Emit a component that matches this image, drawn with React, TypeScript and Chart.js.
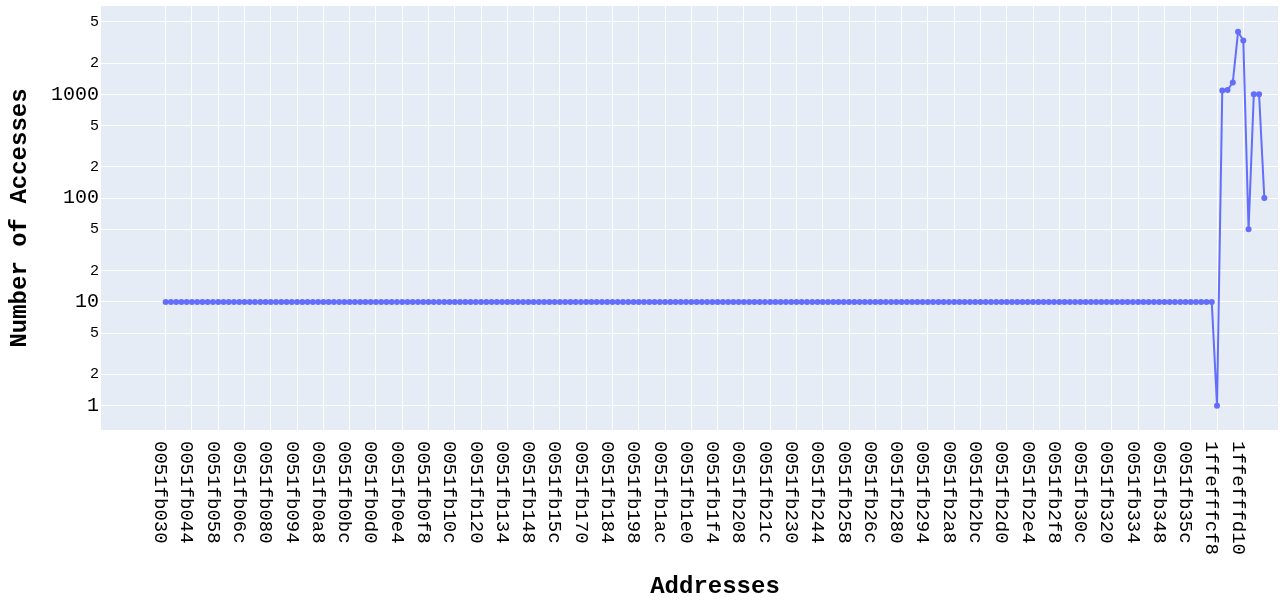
import React, { useEffect, useRef } from "react";
import { Chart, registerables } from "chart.js";

Chart.register(...registerables);

const heapAddresses: string[] = [
  "0051fb030", "0051fb034", "0051fb038", "0051fb03c", "0051fb040", "0051fb044", "0051fb048", "0051fb04c", "0051fb050", "0051fb054",
  "0051fb058", "0051fb05c", "0051fb060", "0051fb064", "0051fb068", "0051fb06c", "0051fb070", "0051fb074", "0051fb078", "0051fb07c",
  "0051fb080", "0051fb084", "0051fb088", "0051fb08c", "0051fb090", "0051fb094", "0051fb098", "0051fb09c", "0051fb0a0", "0051fb0a4",
  "0051fb0a8", "0051fb0ac", "0051fb0b0", "0051fb0b4", "0051fb0b8", "0051fb0bc", "0051fb0c0", "0051fb0c4", "0051fb0c8", "0051fb0cc",
  "0051fb0d0", "0051fb0d4", "0051fb0d8", "0051fb0dc", "0051fb0e0", "0051fb0e4", "0051fb0e8", "0051fb0ec", "0051fb0f0", "0051fb0f4",
  "0051fb0f8", "0051fb0fc", "0051fb100", "0051fb104", "0051fb108", "0051fb10c", "0051fb110", "0051fb114", "0051fb118", "0051fb11c",
  "0051fb120", "0051fb124", "0051fb128", "0051fb12c", "0051fb130", "0051fb134", "0051fb138", "0051fb13c", "0051fb140", "0051fb144",
  "0051fb148", "0051fb14c", "0051fb150", "0051fb154", "0051fb158", "0051fb15c", "0051fb160", "0051fb164", "0051fb168", "0051fb16c",
  "0051fb170", "0051fb174", "0051fb178", "0051fb17c", "0051fb180", "0051fb184", "0051fb188", "0051fb18c", "0051fb190", "0051fb194",
  "0051fb198", "0051fb19c", "0051fb1a0", "0051fb1a4", "0051fb1a8", "0051fb1ac", "0051fb1b0", "0051fb1b4", "0051fb1b8", "0051fb1bc",
  "0051fb1e0", "0051fb1e4", "0051fb1e8", "0051fb1ec", "0051fb1f0", "0051fb1f4", "0051fb1f8", "0051fb1fc", "0051fb200", "0051fb204",
  "0051fb208", "0051fb20c", "0051fb210", "0051fb214", "0051fb218", "0051fb21c", "0051fb220", "0051fb224", "0051fb228", "0051fb22c",
  "0051fb230", "0051fb234", "0051fb238", "0051fb23c", "0051fb240", "0051fb244", "0051fb248", "0051fb24c", "0051fb250", "0051fb254",
  "0051fb258", "0051fb25c", "0051fb260", "0051fb264", "0051fb268", "0051fb26c", "0051fb270", "0051fb274", "0051fb278", "0051fb27c",
  "0051fb280", "0051fb284", "0051fb288", "0051fb28c", "0051fb290", "0051fb294", "0051fb298", "0051fb29c", "0051fb2a0", "0051fb2a4",
  "0051fb2a8", "0051fb2ac", "0051fb2b0", "0051fb2b4", "0051fb2b8", "0051fb2bc", "0051fb2c0", "0051fb2c4", "0051fb2c8", "0051fb2cc",
  "0051fb2d0", "0051fb2d4", "0051fb2d8", "0051fb2dc", "0051fb2e0", "0051fb2e4", "0051fb2e8", "0051fb2ec", "0051fb2f0", "0051fb2f4",
  "0051fb2f8", "0051fb2fc", "0051fb300", "0051fb304", "0051fb308", "0051fb30c", "0051fb310", "0051fb314", "0051fb318", "0051fb31c",
  "0051fb320", "0051fb324", "0051fb328", "0051fb32c", "0051fb330", "0051fb334", "0051fb338", "0051fb33c", "0051fb340", "0051fb344",
  "0051fb348", "0051fb34c", "0051fb350", "0051fb354", "0051fb358", "0051fb35c", "0051fb360", "0051fb364", "0051fb368", "0051fb36c",
];

const heapCounts: number[] = [
  10, 10, 10, 10, 10, 10, 10, 10, 10, 10, 10, 10, 10, 10, 10, 10, 10, 10, 10, 10,
  10, 10, 10, 10, 10, 10, 10, 10, 10, 10, 10, 10, 10, 10, 10, 10, 10, 10, 10, 10,
  10, 10, 10, 10, 10, 10, 10, 10, 10, 10, 10, 10, 10, 10, 10, 10, 10, 10, 10, 10,
  10, 10, 10, 10, 10, 10, 10, 10, 10, 10, 10, 10, 10, 10, 10, 10, 10, 10, 10, 10,
  10, 10, 10, 10, 10, 10, 10, 10, 10, 10, 10, 10, 10, 10, 10, 10, 10, 10, 10, 10,
  10, 10, 10, 10, 10, 10, 10, 10, 10, 10, 10, 10, 10, 10, 10, 10, 10, 10, 10, 10,
  10, 10, 10, 10, 10, 10, 10, 10, 10, 10, 10, 10, 10, 10, 10, 10, 10, 10, 10, 10,
  10, 10, 10, 10, 10, 10, 10, 10, 10, 10, 10, 10, 10, 10, 10, 10, 10, 10, 10, 10,
  10, 10, 10, 10, 10, 10, 10, 10, 10, 10, 10, 10, 10, 10, 10, 10, 10, 10, 10, 10,
  10, 10, 10, 10, 10, 10, 10, 10, 10, 10, 10, 10, 10, 10, 10, 10, 10, 10, 10, 10,
];

const stackAddresses: string[] = [
  "1ffefffcf8", "1ffefffd00", "1ffefffd04", "1ffefffd08", "1ffefffd0c",
  "1ffefffd10", "1ffefffd18", "1ffefffd20", "1ffefffd28", "1ffefffd30",
];

const stackCounts: number[] = [1, 1090, 1100, 1300, 4000, 3300, 50, 1000, 1000, 100];

const addresses: string[] = [...heapAddresses, ...stackAddresses];
const accessCounts: number[] = [...heapCounts, ...stackCounts];

const yTickValues: number[] = [1, 2, 5, 10, 20, 50, 100, 200, 500, 1000, 2000, 5000];
const yTickLabels: string[] = ["1", "2", "5", "10", "2", "5", "100", "2", "5", "1000", "2", "5"];
const yMajorTicks: number[] = [1, 10, 100, 1000];

const xTitle = "Addresses";
const yTitle = "Number of Accesses";

const FONT = '"Liberation Mono", "DejaVu Sans Mono", monospace';

export default function App() {
  const ref = useRef<HTMLCanvasElement>(null);

  useEffect(() => {
    const canvas = ref.current;
    if (!canvas) return;

    const bgPlugin = {
      id: "plotBg",
      beforeDraw(chart: any) {
        const { ctx, chartArea: a } = chart;
        ctx.save();
        ctx.fillStyle = "#E5ECF6";
        ctx.fillRect(a.left, a.top, a.right - a.left, a.bottom - a.top);
        ctx.restore();
      },
    };

    const xLabelPlugin = {
      id: "xLabels",
      afterDraw(chart: any) {
        const { ctx, chartArea: a } = chart;
        const xs = chart.scales.x;
        ctx.save();
        ctx.fillStyle = "#000";
        ctx.font = `19px ${FONT}`;
        ctx.textAlign = "left";
        ctx.textBaseline = "middle";
        xs.ticks.forEach((t: any) => {
          const px = xs.getPixelForValue(t.value);
          ctx.save();
          ctx.translate(px - 5.5, a.bottom + 11);
          ctx.rotate(Math.PI / 2);
          ctx.fillText(addresses[t.value], 0, 0);
          ctx.restore();
        });
        ctx.font = `bold 24px ${FONT}`;
        ctx.textAlign = "center";
        ctx.fillText(xTitle, 715, 587);
        ctx.restore();
      },
    };

    const chart = new Chart(canvas, {
      type: "line",
      data: {
        datasets: [
          {
            data: accessCounts.map((v, i) => ({ x: i, y: v })),
            borderColor: "#636EFA",
            backgroundColor: "#636EFA",
            pointBackgroundColor: "#636EFA",
            pointBorderWidth: 0,
            pointRadius: 3,
            borderWidth: 2,
            tension: 0,
          },
        ],
      },
      options: {
        animation: false,
        responsive: false,
        devicePixelRatio: 1,
        layout: { padding: { left: 0, right: 7, top: 6, bottom: 0 } },
        plugins: { legend: { display: false }, tooltip: { enabled: false } },
        scales: {
          x: {
            type: "linear",
            min: -12.3,
            max: 211.6,
            afterBuildTicks(scale: any) {
              scale.ticks = addresses
                .map((_, i) => i)
                .filter((i) => i % 5 === 0)
                .map((i) => ({ value: i }));
            },
            afterFit(scale: any) {
              scale.height = 173;
              scale.paddingLeft = 0;
              scale.paddingRight = 0;
            },
            ticks: { display: false },
            grid: { color: "#ffffff", lineWidth: 1, drawTicks: false },
            border: { display: false },
          },
          y: {
            type: "logarithmic",
            min: 0.583,
            max: 7094,
            afterBuildTicks(scale: any) {
              scale.ticks = yTickValues.map((v) => ({ value: v }));
            },
            afterFit(scale: any) {
              scale.width = 101;
              scale.paddingTop = 0;
              scale.paddingBottom = 0;
            },
            ticks: {
              padding: 2,
              color: "#000",
              autoSkip: false,
              callback: (_v: any, i: number) => yTickLabels[i],
              font: (ctx: any) => ({
                family: FONT,
                size: yMajorTicks.includes(ctx.tick?.value) ? 20 : 15,
              }),
            },
            grid: { color: "#ffffff", lineWidth: 1, drawTicks: false },
            border: { display: false },
            title: {
              display: true,
              text: yTitle,
              color: "#000",
              font: { family: FONT, size: 24, weight: "bold" },
              padding: { top: 6, bottom: 0 },
            },
          },
        },
      },
      plugins: [bgPlugin, xLabelPlugin],
    } as any);

    return () => chart.destroy();
  }, []);

  return (
    <canvas
      ref={ref}
      width={1285}
      height={603}
      style={{ position: "absolute", left: 0, top: 0, display: "block" }}
    />
  );
}
